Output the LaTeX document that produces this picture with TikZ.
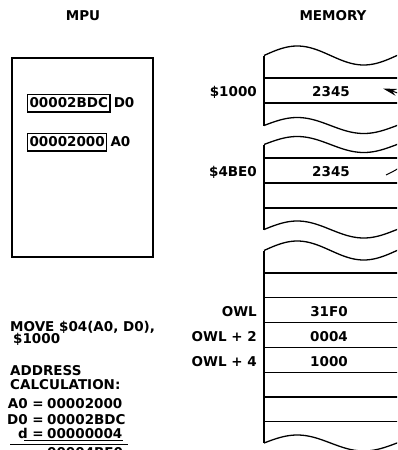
\documentclass[tikz,border=0pt]{standalone}
\usepackage{fontspec}
\setmainfont{DejaVu Sans}
\usetikzlibrary{arrows.meta}
\newcommand\memwave[2]{\draw[ln] plot[domain=0:136,samples=70,smooth] ({264+\x},{#1-#2*sin(2.70677*\x)});}
\begin{document}
\begin{tikzpicture}[x=1pt,y=-1pt,
  txt/.style={font=\fontsize{13.5}{16}\selectfont\bfseries, inner sep=0pt},
  ln/.style={line width=1.3pt},
  reg/.style={txt, draw, line width=1.2pt, inner xsep=2pt, inner ysep=4pt, text height=9.8pt, text depth=0pt},
]
\useasboundingbox (0,0) rectangle (397,450);
\clip (0,0) rectangle (397,450);

% titles
\node[txt, anchor=base] (mpu) at (83,20) {MPU};
\node[txt, anchor=base] (mem) at (333,20) {MEMORY};

% MPU box and registers
\node[draw, line width=1.6pt, minimum width=141pt, minimum height=199pt, anchor=north west, inner sep=0pt] (mpubox) at (11,57) {};
\node[reg, anchor=west] (d0) at (27,103) {00002BDC};
\node[txt, anchor=west] (d0l) at ([xshift=3pt]d0.east) {D0};
\node[reg, anchor=west] (a0) at (27,142) {00002000};
\node[txt, anchor=west] (a0l) at ([xshift=3pt]a0.east) {A0};

% memory section 1
\memwave{55.5}{9.5}
\draw[ln] (264,55.5) -- (264,125.5);
\memwave{125.5}{8}
\foreach \yy in {78,103} \draw[ln] (264,\yy) -- (400,\yy);

% memory section 2
\memwave{144.5}{8}
\draw[ln] (264,144.5) -- (264,229.5);
\memwave{229.5}{8.5}
\foreach \yy in {158,183,208} \draw[ln] (264,\yy) -- (400,\yy);

% memory section 3
\memwave{250.5}{9.5}
\draw[ln] (264,250.5) -- (264,443);
\memwave{443}{8}
\foreach \yy in {273,297.8,322.6,347.4,372.2,397,421.8} \draw[ln] (264,\yy) -- (400,\yy);

% memory labels and values
\node[txt, anchor=base east] (l1000) at (257,96) {\$1000};
\node[txt, anchor=base] (v1000) at (331,96) {2345};
\node[txt, anchor=base east] (l4be0) at (257,176.5) {\$4BE0};
\node[txt, anchor=base] (v4be0) at (331,176.5) {2345};
\node[txt, anchor=base east] (lowl) at (257,316.5) {OWL};
\node[txt, anchor=base] (vowl) at (329,316.5) {31F0};
\node[txt, anchor=base east] (lowl2) at (257,341) {OWL + 2};
\node[txt, anchor=base] (vowl2) at (329,341) {0004};
\node[txt, anchor=base east] (lowl4) at (257,366.5) {OWL + 4};
\node[txt, anchor=base] (vowl4) at (329,366.5) {1000};

% arrow from $4BE0 to $1000 (mostly off picture)
\coordinate (as) at (386,175);
\coordinate (at) at (383,88.5);
\draw[line width=1pt, -{Stealth[length=14pt,width=7pt]}] (as) .. controls (440,150) and (440,105) .. (at);

% instruction and calculation
\node[txt, anchor=base west] (mv1) at (10,331) {MOVE \$04(A0, D0),};
\node[txt, anchor=base west] (mv2) at (13,343) {\$1000};
\node[txt, anchor=base west] (ad1) at (10,375) {ADDRESS};
\node[txt, anchor=base west] (ad2) at (10,389) {CALCULATION:};
\node[txt, anchor=base east] (ea) at (44,408) {A0 =};
\node[txt, anchor=base west] (na) at (47,408) {00002000};
\node[txt, anchor=base east] (ed) at (44,424) {D0 =};
\node[txt, anchor=base west] (nd) at (47,424) {00002BDC};
\node[txt, anchor=base east] (edd) at (44,438.5) {d =};
\node[txt, anchor=base west] (ndd) at (47,438.5) {00000004};
\draw[line width=1pt] (24,440.5) -- (ndd.base east |- 0,440.5);
\draw[line width=1.2pt] (10,444.5) -- (128,444.5);
\node[txt, anchor=base west] (res) at (47,457.5) {00004BE0};
\end{tikzpicture}
\end{document}
